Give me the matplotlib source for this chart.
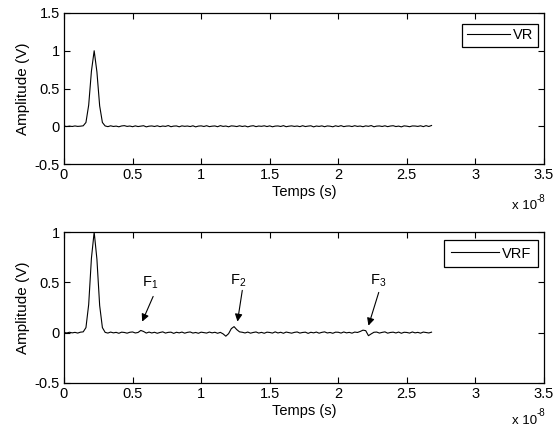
import numpy as np
import matplotlib
matplotlib.use("Agg")
import matplotlib.pyplot as plt
from matplotlib.ticker import FuncFormatter

plt.rcParams['font.family'] = ['Liberation Sans', 'DejaVu Sans']
plt.rcParams['mathtext.default'] = 'regular'
plt.rcParams['axes.unicode_minus'] = False

# sampling step in units of 1e-8 s
dt = 0.02
scale = 1e-8

vr = [0.003, -0.004, 0.002, -0.003, 0.004, -0.002, 0.001, 0.006,
      0.05, 0.28, 0.73, 1.00, 0.72, 0.27, 0.05, 0.004,
      -0.005, 0.006, -0.003, 0.002, -0.007, 0.004, 0.008, -0.002, 0.003, -0.006,
      0.005, -0.004, 0.002, 0.007, -0.008, 0.001, 0.004, -0.003, 0.006, -0.005,
      0.003, -0.002, 0.009, -0.006, 0.002, 0.004, -0.007, 0.005, -0.001, 0.003,
      -0.004, 0.006, -0.008, 0.002, 0.005, -0.003, 0.007, -0.005, 0.001, 0.004,
      -0.006, 0.008, -0.002, 0.003, -0.007, 0.005, 0.002, -0.004, 0.006, -0.003,
      0.004, -0.008, 0.002, 0.007, -0.005, 0.003, -0.001, 0.006, -0.004, 0.005,
      -0.007, 0.002, 0.004, -0.003, 0.008, -0.006, 0.001, 0.005, -0.002, 0.003,
      -0.005, 0.007, -0.004, 0.002, 0.006, -0.008, 0.003, -0.002, 0.005, -0.006,
      0.004, 0.001, -0.007, 0.006, -0.003, 0.008, -0.005, 0.002, 0.004, -0.004,
      0.007, -0.002, 0.003, -0.006, 0.005, -0.001, 0.009, -0.007, 0.002, 0.004,
      -0.003, 0.006, -0.005, 0.003, 0.007, -0.004, 0.002, -0.008, 0.005, 0.001,
      -0.006, 0.004, 0.003, -0.002, 0.006, -0.005, 0.008, -0.003, 0.010]

vrf = [0.002, -0.003, 0.004, -0.002, 0.003, -0.004, 0.005, 0.008,
       0.05, 0.28, 0.74, 1.00, 0.73, 0.27, 0.05, 0.003,
       -0.004, 0.006, -0.002, 0.003, -0.006, 0.005, 0.002, -0.005, 0.004, 0.007, -0.003, 0.002,
       0.022, 0.012, -0.004,
       0.006, -0.003, 0.004, -0.006, 0.002, 0.008, -0.004, 0.003, 0.005, -0.007,
       0.004, -0.002, 0.006, -0.005, 0.003, 0.007, -0.004, 0.002, -0.006, 0.005,
       0.001, -0.004, 0.006, -0.002, 0.004, -0.006, 0.003, -0.012,
       -0.035, -0.010, 0.040, 0.060, 0.030, 0.008,
       0.004, -0.003, 0.006, -0.005, 0.002, 0.007, -0.004, 0.003, -0.006, 0.005,
       0.002, -0.004, 0.008, -0.003, 0.004, -0.006, 0.006, 0.001, -0.005, 0.003,
       0.007, -0.004, 0.002, 0.005, -0.007, 0.004, -0.002, 0.006, -0.005, 0.003,
       0.008, -0.003, 0.002, -0.006, 0.005, 0.004, -0.004, 0.007, -0.002, 0.003,
       -0.005, 0.006, 0.002, 0.012,
       0.025, 0.020, -0.030, -0.012, 0.004,
       0.006, -0.004, 0.003, 0.008, -0.005, 0.002, 0.005, -0.003, 0.006, -0.006,
       0.004, 0.002, -0.004, 0.007, -0.002, 0.003, -0.005, 0.006, 0.001, -0.003, 0.005]

xticks = [0, 0.5, 1, 1.5, 2, 2.5, 3, 3.5]
top_yticks = [-0.5, 0, 0.5, 1, 1.5]
bot_yticks = [-0.5, 0, 0.5, 1]

# annotations: label, text position, arrow head, arrow tail (x in units of 1e-8 s, y in V)
ann_labels = ['F$_1$', 'F$_2$', 'F$_3$']
ann_text = [(0.63, 0.50), (1.27, 0.52), (2.29, 0.52)]
ann_head = [(0.57, 0.11), (1.265, 0.11), (2.22, 0.07)]
ann_tail = [(0.65, 0.36), (1.30, 0.42), (2.295, 0.40)]

t_vr = np.arange(len(vr)) * dt * scale
t_vrf = np.arange(len(vrf)) * dt * scale

fig = plt.figure(figsize=(5.53, 4.32), dpi=100)
fig.patch.set_facecolor('white')

ax1 = fig.add_axes([64/553, 1-164/432, 480/553, 151/432])
ax2 = fig.add_axes([64/553, 1-383/432, 480/553, 151/432])

fs = 10.5
fmt = FuncFormatter(lambda v, p: '%g' % round(v / scale, 6))
yfmt = FuncFormatter(lambda v, p: '%g' % round(v, 6))

def style(ax, yticks, ylim, exp_y):
    ax.set_xlim(0, 3.5 * scale)
    ax.set_ylim(*ylim)
    ax.set_xticks([x * scale for x in xticks])
    ax.set_yticks(yticks)
    ax.xaxis.set_major_formatter(fmt)
    ax.yaxis.set_major_formatter(yfmt)
    ax.tick_params(direction='in', length=4, width=0.8, top=True, right=True,
                   labelsize=fs, pad=3)
    for s in ax.spines.values():
        s.set_linewidth(0.9)
    ax.set_xlabel('Temps (s)', fontsize=fs, labelpad=2)
    ax.set_ylabel('Amplitude (V)', fontsize=fs + 0.5, labelpad=3)
    ax.text(0.985, exp_y, 'x 10', transform=ax.transAxes, ha='right',
            va='center', fontsize=fs - 1)
    ax.text(0.985, exp_y + 0.05, '-8', transform=ax.transAxes, ha='left',
            va='center', fontsize=fs - 3.5)

ax1.plot(t_vr, vr, color='black', lw=0.8, label='VR')
style(ax1, top_yticks, (-0.5, 1.5), -0.28)
leg1 = ax1.legend(loc='upper right', bbox_to_anchor=(1 - 6/480, 1 - 11/151),
                  borderaxespad=0, fancybox=False, edgecolor='black',
                  handlelength=3, handletextpad=0.2, fontsize=fs,
                  borderpad=0.3, framealpha=1)
leg1.get_frame().set_linewidth(0.9)

ax2.plot(t_vrf, vrf, color='black', lw=0.8, label='VRF')
style(ax2, bot_yticks, (-0.5, 1.0), -0.25)
leg2 = ax2.legend(loc='upper right', bbox_to_anchor=(1 - 6/480, 1 - 8/151),
                  borderaxespad=0, fancybox=False, edgecolor='black',
                  handlelength=3.3, handletextpad=0.2, fontsize=fs,
                  borderpad=0.45, framealpha=1)
leg2.get_frame().set_linewidth(0.9)

for lab, (tx, ty), (hx, hy), (sx, sy) in zip(ann_labels, ann_text, ann_head, ann_tail):
    ax2.text(tx * scale, ty, lab, ha='center', va='center', fontsize=fs)
    ax2.annotate('', xy=(hx * scale, hy), xytext=(sx * scale, sy),
                 arrowprops=dict(arrowstyle='-|>', color='black', lw=0.8,
                                 mutation_scale=11, shrinkA=0, shrinkB=0))

fig.savefig('out.png', dpi=100, facecolor='white')
